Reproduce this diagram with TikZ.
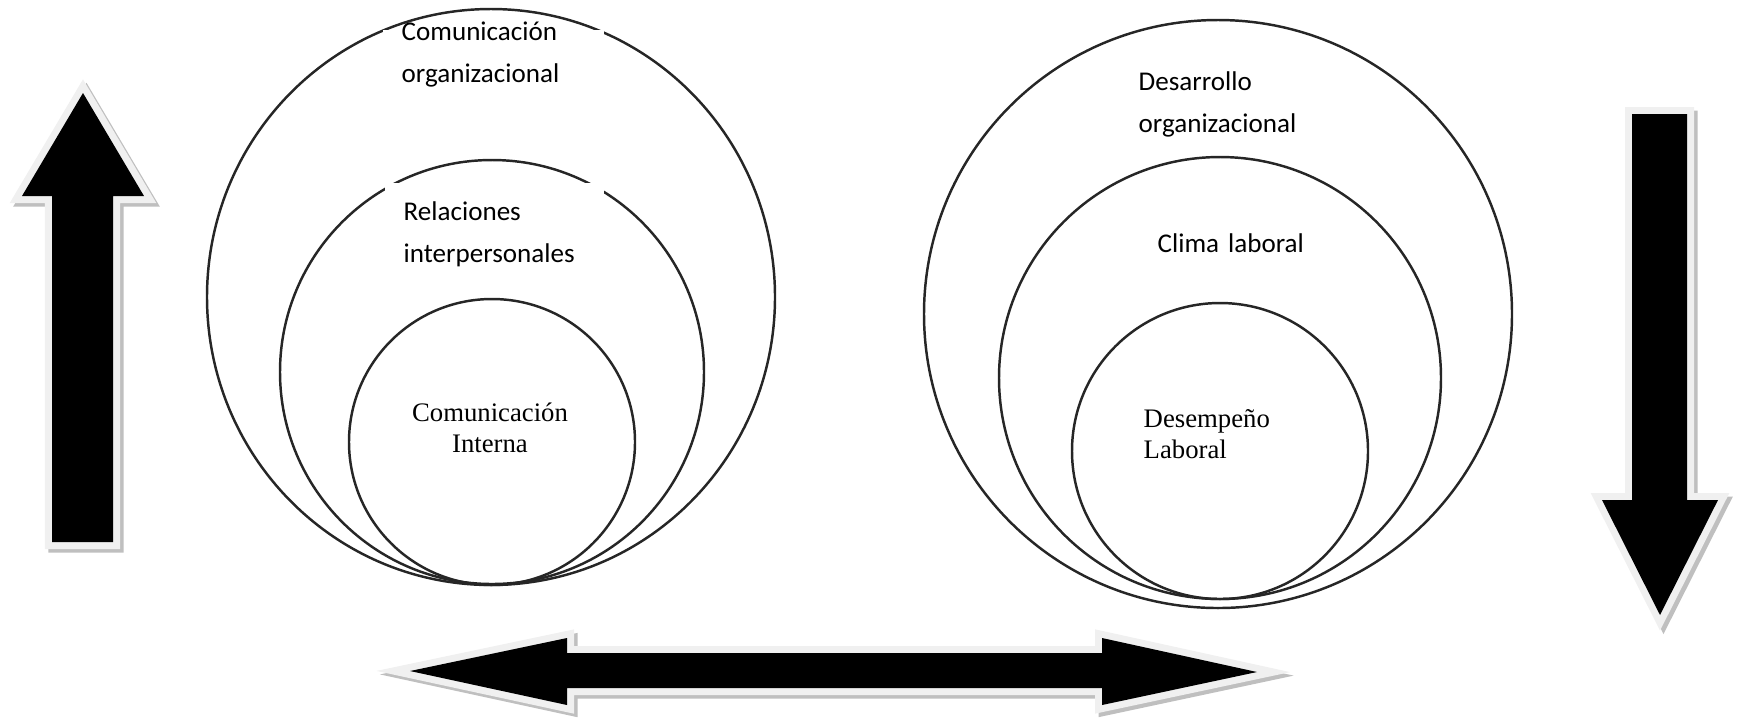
\documentclass[tikz,border=0pt]{standalone}
\usepackage{fontspec}
\newfontfamily\calfont{Carlito}
\newfontfamily\timesfont{Liberation Serif}
\tikzset{
ring/.style={draw=black!85,line width=0.7pt},
mask/.style={fill=white},
tag/.style={inner xsep=0.18cm,inner ysep=0.18cm,anchor=north west,align=left,text width=1.9cm,
 font=\calfont\fontsize{7.7}{12}\selectfont},
core/.style={inner sep=0pt,font=\timesfont\fontsize{7.6}{8.8}\selectfont},
bigarrow/.style={fill=black,line join=miter,
 preaction={draw=black!25,line width=0.14cm,transform canvas={shift={(0.035cm,-0.035cm)}}},
 preaction={draw=black!6,line width=0.14cm}}
}
\begin{document}
\begin{tikzpicture}[x=0.01cm,y=-0.01cm]
\useasboundingbox (0,0) rectangle (1739,720);
\draw[ring] (491,297) ellipse[x radius=284,y radius=288];
\draw[ring] (492,372) circle[radius=212];
\draw[ring] (492,442) circle[radius=143];
\draw[ring] (1218,314) circle[radius=294];
\draw[ring] (1220,378) circle[radius=221];
\draw[ring] (1220,451) circle[radius=148];
\path[mask] (383,30) rectangle (604,110);
\path[mask] (385,183) rectangle (604,265);
\node[tag] (comorg) at (383,3) {Comunicación\\organizacional};
\node[tag] (relint) at (385,183) {Relaciones\\interpersonales};
\node[tag] (desorg) at (1120,53) {Desarrollo\\organizacional};
\node[tag] (clima) at (1139,215) {Clima laboral};
\node[core,align=center,anchor=north] (comint) at (490,402) {Comunicación\\Interna};
\node[core,align=left,anchor=north west] (desemp) at (1143,409) {Desempeño\\Laboral};
\path[bigarrow] (52,542) -- (52,196) -- (22,196) -- (83,93) -- (144,196) -- (113,196) -- (113,542) -- cycle;
\path[bigarrow] (1632,114) -- (1687,114) -- (1687,500) -- (1718,500) -- (1660,615) -- (1602,500) -- (1632,500) -- cycle;
\path[bigarrow] (410,671) -- (567,638) -- (567,653) -- (1102,653) -- (1102,638) -- (1257,672)
 -- (1102,705) -- (1102,688) -- (567,688) -- (567,705) -- cycle;
\end{tikzpicture}
\end{document}
